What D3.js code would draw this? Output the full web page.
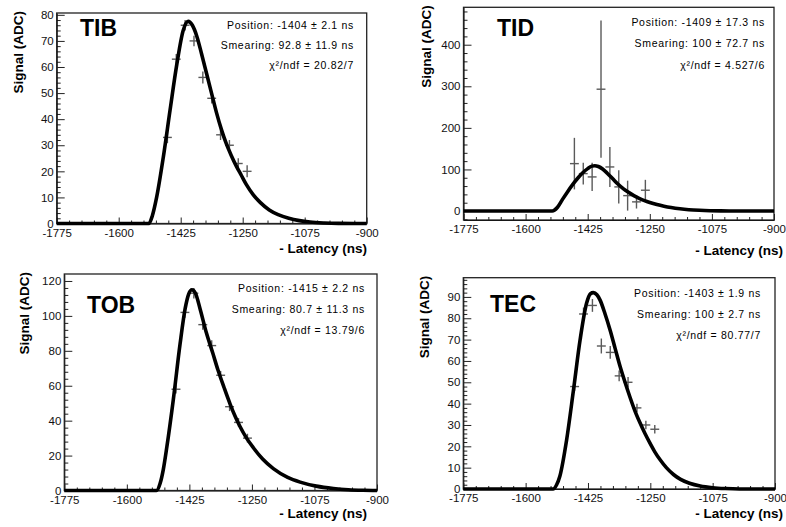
<!DOCTYPE html>
<html lang="en">
<head>
<meta charset="utf-8">
<title>Latency scans per partition</title>
<script src="https://d3js.org/d3.v7.min.js"></script>
<style>
  body { margin: 0; background: #fff; }
  svg { display: block; font-family: "Liberation Sans", Arial, sans-serif; }
</style>
</head>
<body>
<div id="chart"></div>
<script>
// common x axis (- latency, ns)
const latencyRange = [-1775, -900];
const latencyTicks = [-1775, -1600, -1425, -1250, -1075, -900];

// TIB
const tibLatency = [-1462.5, -1437.5, -1412.5, -1387.5, -1362.5, -1337.5, -1312.5, -1287.5, -1262.5, -1237.5];
const tibSignal = [33, 63, 76, 70, 56, 48, 34, 30, 23, 20];
const tibError = [2.2, 2, 2, 2, 2.3, 2, 2, 2, 2, 2.3];
const tibFitLatency = [-1775, -1515, -1505, -1493, -1474, -1455, -1436, -1418, -1404, -1392, -1380, -1366, -1352, -1338, -1324, -1310, -1296, -1282, -1268, -1254, -1240, -1220, -1200, -1175, -1150, -1120, -1090, -1060, -1020, -980, -900];
const tibFitSignal = [0, 0, 3, 10, 25.5, 43.5, 61, 74, 77.5, 76, 72, 65, 57.5, 50, 42.5, 36, 30.5, 26, 22, 18.5, 15, 11, 8, 5.2, 3.4, 2, 1.1, 0.55, 0.2, 0.05, 0];
const tibYTicks = [0, 10, 20, 30, 40, 50, 60, 70, 80];
const tibStats = ["Position: -1404 \u00b1 2.1 ns", "Smearing: 92.8 \u00b1 11.9 ns", "\u03c7\u00b2/ndf = 20.82/7"];

// TID
const tidLatency = [-1462.5, -1437.5, -1412.5, -1387.5, -1362.5, -1337.5, -1312.5, -1287.5, -1262.5];
const tidSignal = [114, 90, 82, 293, 106, 58, 37, 22, 50];
const tidError = [62, 26, 34, 165, 48, 40, 36, 16, 25];
const tidFitLatency = [-1775, -1525, -1510, -1496, -1482, -1467, -1452, -1439, -1425, -1413, -1405, -1395, -1383, -1370, -1355, -1340, -1325, -1310, -1295, -1280, -1265, -1250, -1230, -1210, -1190, -1165, -1140, -1110, -1080, -1050, -1010, -900];
const tidFitSignal = [0, 0, 9, 28, 46, 64, 80, 92, 102, 108, 109, 107, 101, 91, 78, 65, 54, 45, 37, 30.5, 25, 20.5, 15.5, 11.5, 8.3, 5.3, 3.2, 1.7, 0.8, 0.35, 0.1, 0];
const tidYTicks = [0, 100, 200, 300, 400];
const tidStats = ["Position: -1409 \u00b1 17.3 ns", "Smearing: 100 \u00b1 72.7 ns", "\u03c7\u00b2/ndf = 4.527/6"];

// TOB
const tobLatency = [-1462.5, -1437.5, -1412.5, -1387.5, -1362.5, -1337.5, -1312.5, -1287.5, -1262.5];
const tobSignal = [58, 102, 113, 95, 83, 66, 48, 39, 30];
const tobError = [2.5, 3, 3, 3, 3, 2.5, 2.5, 2.5, 2.5];
const tobFitLatency = [-1775, -1517, -1507, -1498, -1488, -1470, -1451, -1437, -1427, -1418, -1408, -1395, -1377, -1360, -1345, -1328, -1311, -1297, -1283, -1265, -1246, -1220, -1190, -1150, -1115, -1070, -1022, -980, -940, -900];
const tobFitSignal = [0, 0, 4, 12, 25, 52, 84, 104, 112.5, 115, 113, 104, 90, 79, 69, 59, 49.5, 42.5, 36.5, 30, 24.5, 18, 12.5, 7.5, 4.8, 2.5, 1.1, 0.4, 0.1, 0];
const tobYTicks = [0, 20, 40, 60, 80, 100, 120];
const tobStats = ["Position: -1415 \u00b1 2.2 ns", "Smearing: 80.7 \u00b1 11.3 ns", "\u03c7\u00b2/ndf = 13.79/6"];

// TEC
const tecLatency = [-1462.5, -1437.5, -1412.5, -1387.5, -1362.5, -1337.5, -1312.5, -1287.5, -1262.5, -1237.5];
const tecSignal = [48, 82, 86, 67, 64, 53, 50, 38, 30, 28];
const tecError = [2, 3, 3, 3.5, 3, 2.5, 2.5, 2, 2, 2];
const tecFitLatency = [-1775, -1523, -1513, -1504, -1485, -1466, -1447, -1429, -1418, -1410, -1400, -1391, -1377, -1363, -1349, -1335, -1321, -1307, -1293, -1279, -1265, -1251, -1237, -1223, -1205, -1185, -1165, -1140, -1110, -1075, -1040, -1000, -900];
const tecFitSignal = [0, 0, 2, 6, 23, 46, 70, 87, 91.5, 92, 91, 88.5, 82, 74.5, 66, 57.5, 50, 43, 36.5, 31, 26, 21.5, 17.3, 13.8, 10, 6.8, 4.5, 2.7, 1.4, 0.6, 0.2, 0, 0];
const tecYTicks = [0, 10, 20, 30, 40, 50, 60, 70, 80, 90];
const tecStats = ["Position: -1403 \u00b1 1.9 ns", "Smearing: 100 \u00b1 2.7 ns", "\u03c7\u00b2/ndf = 80.77/7"];

const binHalfWidth = 12.5;

// panel layout (pixels) + data references
const panels = [
  { name: "TIB", lat: tibLatency, sig: tibSignal, err: tibError, fitLat: tibFitLatency, fitSig: tibFitSignal,
    yTicks: tibYTicks, yDomain: [0, 80.7], yMinor: 2, stats: tibStats,
    box: [56.7, 13, 366.7, 223.5], nameAt: [80, 36], statsAt: [354, 28.5, 20.3], yTitleX: 23, xTitleAt: [367, 253] },
  { name: "TID", lat: tidLatency, sig: tidSignal, err: tidError, fitLat: tidFitLatency, fitSig: tidFitSignal,
    yTicks: tidYTicks, yDomain: [-21.6, 490], yMinor: 20, stats: tidStats,
    box: [463.5, 7.3, 774, 220], nameAt: [497, 35.7], statsAt: [765, 25.5, 21.5], yTitleX: 431, xTitleAt: [783, 255] },
  { name: "TOB", lat: tobLatency, sig: tobSignal, err: tobError, fitLat: tobFitLatency, fitSig: tobFitSignal,
    yTicks: tobYTicks, yDomain: [0, 124], yMinor: 4, stats: tobStats,
    box: [64.3, 274, 377, 490.5], nameAt: [87, 313], statsAt: [365, 292, 21.2], yTitleX: 29, xTitleAt: [367, 518] },
  { name: "TEC", lat: tecLatency, sig: tecSignal, err: tecError, fitLat: tecFitLatency, fitSig: tecFitSignal,
    yTicks: tecYTicks, yDomain: [0, 99], yMinor: 2, stats: tecStats,
    box: [463.3, 277.7, 775, 489], nameAt: [490, 311.7], statsAt: [761, 297, 20.9], yTitleX: 428.5, xTitleAt: [783, 518] }
];

const svg = d3.select("#chart").append("svg")
  .attr("width", 786)
  .attr("height", 527);

function drawPanel(p) {
  const [x0, y0, x1, y1] = p.box;
  const x = d3.scaleLinear().domain(latencyRange).range([x0, x1]);
  const y = d3.scaleLinear().domain(p.yDomain).range([y1, y0]);
  const g = svg.append("g").attr("class", "panel-" + p.name);

  // minor ticks
  const xMinor = d3.range(latencyRange[0], latencyRange[1] + 1, 35).filter(v => !latencyTicks.includes(v));
  g.append("g")
    .attr("transform", `translate(0,${y1})`)
    .call(d3.axisBottom(x).tickValues(xMinor).tickSize(-3).tickSizeOuter(0).tickFormat(""))
    .call(a => a.select(".domain").remove());
  const yMinor = d3.range(Math.ceil(p.yDomain[0] / p.yMinor) * p.yMinor, p.yDomain[1], p.yMinor)
    .filter(v => !p.yTicks.includes(v));
  g.append("g")
    .attr("transform", `translate(${x0},0)`)
    .call(d3.axisLeft(y).tickValues(yMinor).tickSize(-4).tickSizeOuter(0).tickFormat(""))
    .call(a => a.select(".domain").remove());

  // major ticks + labels (plain hyphen as in the original plots)
  const xAxis = g.append("g")
    .attr("transform", `translate(0,${y1})`)
    .call(d3.axisBottom(x).tickValues(latencyTicks).tickSize(-6).tickSizeOuter(0).tickPadding(5).tickFormat(d => String(d)));
  const yAxis = g.append("g")
    .attr("transform", `translate(${x0},0)`)
    .call(d3.axisLeft(y).tickValues(p.yTicks).tickSize(-8).tickSizeOuter(0).tickPadding(3).tickFormat(d => String(d)));
  [xAxis, yAxis].forEach(a => {
    a.selectAll("text").style("font-size", "11.5px").attr("fill", "#111");
  });
  g.selectAll(".tick line").attr("stroke", "#222");

  // frame
  g.append("rect")
    .attr("x", x0).attr("y", y0)
    .attr("width", x1 - x0).attr("height", y1 - y0)
    .attr("fill", "none")
    .attr("stroke", "#222")
    .attr("stroke-width", 1.3);

  // data points with error bars
  const pts = p.lat.map((l, i) => ({ l, s: p.sig[i], e: p.err[i] }));
  const marks = g.append("g").attr("stroke", "#5a5a5a").attr("stroke-width", 1.4);
  marks.selectAll("line.xerr").data(pts).join("line")
    .attr("class", "xerr")
    .attr("x1", d => x(d.l - binHalfWidth)).attr("x2", d => x(d.l + binHalfWidth))
    .attr("y1", d => y(d.s)).attr("y2", d => y(d.s));
  marks.selectAll("line.yerr").data(pts).join("line")
    .attr("class", "yerr")
    .attr("x1", d => x(d.l)).attr("x2", d => x(d.l))
    .attr("y1", d => y(Math.max(d.s - d.e, p.yDomain[0]))).attr("y2", d => y(Math.min(d.s + d.e, p.yDomain[1])));

  // fit curve
  const fit = p.fitLat.map((l, i) => [l, p.fitSig[i]]);
  g.append("path")
    .datum(fit)
    .attr("fill", "none")
    .attr("stroke", "#000")
    .attr("stroke-width", 3.6)
    .attr("stroke-linejoin", "round")
    .attr("d", d3.line().x(d => x(d[0])).y(d => y(d[1])).curve(d3.curveMonotoneX));

  // panel name
  g.append("text")
    .attr("x", p.nameAt[0]).attr("y", p.nameAt[1])
    .style("font-size", "23px").style("font-weight", "bold")
    .text(p.name);

  // fit results
  g.selectAll("text.stat").data(p.stats).join("text")
    .attr("class", "stat")
    .attr("x", p.statsAt[0])
    .attr("y", (d, i) => p.statsAt[1] + i * p.statsAt[2])
    .attr("text-anchor", "end")
    .style("font-size", "10.5px")
    .style("letter-spacing", "0.7px")
    .text(d => d);

  // axis titles
  g.append("text")
    .attr("transform", `translate(${p.yTitleX},${y0 - 2}) rotate(-90)`)
    .attr("text-anchor", "end")
    .style("font-size", "13.5px").style("font-weight", "bold")
    .text("Signal (ADC)");
  g.append("text")
    .attr("x", p.xTitleAt[0]).attr("y", p.xTitleAt[1])
    .attr("text-anchor", "end")
    .style("font-size", "13.5px").style("font-weight", "bold")
    .text("- Latency (ns)");
}

panels.forEach(drawPanel);
</script>
</body>
</html>
